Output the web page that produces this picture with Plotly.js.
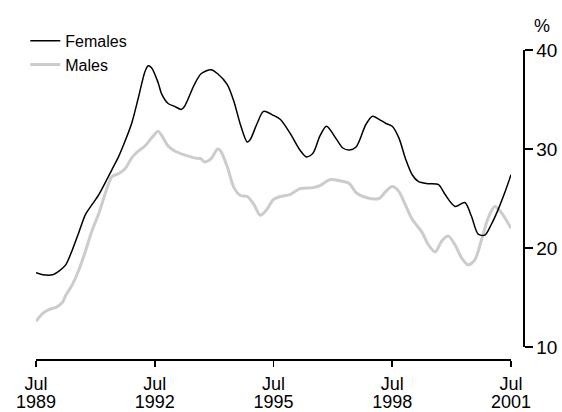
<!DOCTYPE html>
<html>
<head>
<meta charset="utf-8">
<script src="https://cdn.plot.ly/plotly-3.0.1.min.js"></script>
<style>html,body{margin:0;padding:0;background:#fff;}#chart{width:562px;height:412px;}</style>
</head>
<body>
<div id="chart"></div>
<script>
// Females (month, %)
var femaleDates = ['1989-07','1989-09','1989-12','1990-02','1990-04','1990-06','1990-08','1990-10','1990-12',
  '1991-02','1991-04','1991-06','1991-08','1991-10','1991-12','1992-02','1992-04','1992-05','1992-06','1992-08',
  '1992-09','1992-11','1993-01','1993-03','1993-04','1993-07','1993-09','1993-12','1994-02','1994-05','1994-07',
  '1994-09','1994-11','1994-12','1995-02','1995-04','1995-07','1995-09','1995-12','1996-03','1996-05','1996-07',
  '1996-09','1996-11','1997-02','1997-04','1997-06','1997-08','1997-11','1998-01','1998-03','1998-05','1998-07',
  '1998-09','1998-11','1999-01','1999-03','1999-06','1999-09','1999-11','2000-02','2000-05','2000-07','2000-09',
  '2000-11','2001-01','2001-03','2001-05','2001-07'];
var femaleValues = [17.5,17.3,17.3,17.7,18.3,19.8,21.6,23.4,24.4,
  25.4,26.6,27.9,29.2,30.8,32.6,35.2,37.8,38.4,38.2,36.7,
  35.6,34.6,34.3,34.0,34.3,36.5,37.6,38.0,37.6,36.5,34.8,
  32.4,30.7,31.0,32.6,33.8,33.4,33.0,31.6,29.9,29.2,29.6,
  31.3,32.3,31.0,30.1,29.9,30.2,32.5,33.3,33.0,32.6,32.3,
  31.1,29.0,27.4,26.7,26.5,26.4,25.4,24.2,24.6,23.2,21.4,
  21.3,22.4,23.8,25.5,27.4];

// Males (month, %)
var maleDates = ['1989-07','1989-09','1989-11','1990-01','1990-03','1990-04','1990-06','1990-08','1990-10','1990-12',
  '1991-02','1991-04','1991-06','1991-08','1991-10','1991-12','1992-02','1992-04','1992-06','1992-08','1992-09',
  '1992-11','1993-01','1993-04','1993-07','1993-09','1993-10','1993-12','1994-02','1994-03','1994-05','1994-07',
  '1994-09','1994-11','1995-01','1995-03','1995-05','1995-07','1995-09','1995-12','1996-03','1996-07','1996-09',
  '1996-12','1997-03','1997-06','1997-08','1997-11','1998-03','1998-05','1998-07','1998-09','1998-11','1999-01',
  '1999-04','1999-06','1999-08','1999-10','1999-12','2000-02','2000-04','2000-06','2000-08','2000-10','2000-12',
  '2001-02','2001-04','2001-07'];
var maleValues = [12.6,13.4,13.8,14.0,14.5,15.2,16.3,17.8,19.7,21.8,
  23.5,25.5,27.2,27.5,28.0,29.1,29.8,30.3,31.1,31.8,31.4,
  30.3,29.8,29.4,29.1,29.0,28.7,29.0,30.0,29.8,28.2,26.1,
  25.3,25.2,24.4,23.3,23.9,24.9,25.2,25.4,26.0,26.1,26.3,
  26.9,26.8,26.5,25.6,25.1,25.0,25.7,26.2,25.7,24.3,22.9,
  21.6,20.3,19.6,20.7,21.2,20.3,19.0,18.3,18.8,20.8,23.0,
  24.2,23.6,22.0];

var seriesNames = ['Females', 'Males'];
var xTickVals = ['1989-07-01','1992-07-01','1995-07-01','1998-07-01','2001-07-01'];
var xTickMonths = ['Jul','Jul','Jul','Jul','Jul'];
var xTickYears = ['1989','1992','1995','1998','2001'];
var yTickVals = [10, 20, 30, 40];
var yUnit = '%';

var FONT = 'Liberation Sans, Arial, sans-serif';
var X_RANGE = ['1989-07-01', '2001-07-01'];
var X_DOMAIN = [0, 0.9754];

var traces = [
  {x: maleDates, y: maleValues, name: seriesNames[1], type: 'scatter', mode: 'lines',
   line: {color: '#cccccc', width: 3, shape: 'spline', smoothing: 0.8}, legendrank: 2},
  {x: femaleDates, y: femaleValues, name: seriesNames[0], type: 'scatter', mode: 'lines',
   line: {color: '#000000', width: 1.5, shape: 'spline', smoothing: 0.8}, legendrank: 1},
  // empty trace so the year-label axis is drawn
  {x: [], y: [], xaxis: 'x2', yaxis: 'y', type: 'scatter', mode: 'lines', showlegend: false, hoverinfo: 'skip'}
];

var layout = {
  width: 562, height: 412,
  margin: {l: 36, r: 39, t: 50, b: 53, pad: 0, autoexpand: false},
  paper_bgcolor: '#ffffff', plot_bgcolor: '#ffffff',
  font: {family: FONT, size: 18, color: '#000000'},
  showlegend: true,
  legend: {xref: 'container', yref: 'container', x: 0.045, y: 0.942, xanchor: 'left', yanchor: 'top',
           bgcolor: 'rgba(0,0,0,0)',
           font: {family: FONT, size: 16, color: '#000'}, traceorder: 'normal', itemwidth: 30,
           tracegroupgap: 0},
  xaxis: {
    type: 'date', range: X_RANGE, domain: X_DOMAIN,
    anchor: 'free', position: 0,
    tickmode: 'array', tickvals: xTickVals, ticktext: xTickMonths,
    ticks: 'outside', ticklen: 6, tickwidth: 1.5, tickcolor: '#000',
    ticklabelstandoff: 2,
    showline: true, linecolor: '#000', linewidth: 1.5,
    showgrid: false, zeroline: false,
    tickfont: {family: FONT, size: 18, color: '#000'}
  },
  xaxis2: {
    type: 'date', range: X_RANGE, domain: X_DOMAIN,
    overlaying: 'x', anchor: 'free', position: 0, side: 'bottom',
    tickmode: 'array', tickvals: xTickVals, ticktext: xTickYears,
    ticks: '', ticklen: 0, ticklabelstandoff: 30,
    showline: false, showgrid: false, zeroline: false,
    tickfont: {family: FONT, size: 18, color: '#000'}
  },
  yaxis: {
    range: [10, 40], domain: [0.0388, 1],
    anchor: 'free', position: 1, side: 'right',
    tickmode: 'array', tickvals: yTickVals,
    ticks: 'outside', ticklen: 8, tickwidth: 1.5, tickcolor: '#000',
    showline: true, linecolor: '#000', linewidth: 1.5,
    showgrid: false, zeroline: false,
    tickfont: {family: FONT, size: 19, color: '#000'}
  },
  annotations: [
    {text: yUnit, xref: 'paper', yref: 'paper', x: 1.0, y: 1.0, xanchor: 'left', yanchor: 'bottom',
     xshift: 9, yshift: 12, showarrow: false, font: {family: FONT, size: 18, color: '#000'}}
  ]
};

Plotly.newPlot('chart', traces, layout, {staticPlot: true, displayModeBar: false});
</script>
</body>
</html>
